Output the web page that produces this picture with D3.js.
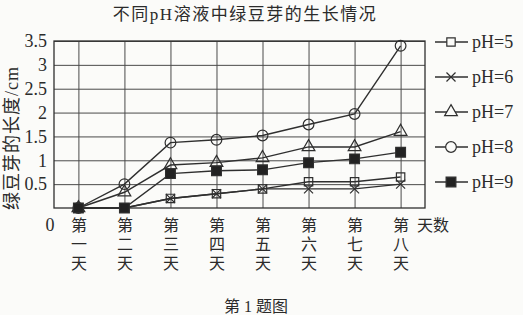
<!DOCTYPE html>
<html>
<head>
<meta charset="utf-8">
<script src="https://cdn.jsdelivr.net/npm/d3@7"></script>
<style>
  body { margin: 0; background: #fbfbf9; }
  text { fill: #2b2b2b; font-family: "Liberation Serif", "Noto Sans CJK SC", serif; }
</style>
</head>
<body>
<div id="chart"></div>
<script>
// data
var days = ["第一天", "第二天", "第三天", "第四天", "第五天", "第六天", "第七天", "第八天"];
var yTicks = [0.5, 1, 1.5, 2, 2.5, 3, 3.5];
var seriesNames = ["pH=5", "pH=6", "pH=7", "pH=8", "pH=9"];
var ph5 = [0, 0, 0.2, 0.3, 0.4, 0.55, 0.55, 0.65];
var ph6 = [0, 0, 0.2, 0.3, 0.4, 0.4, 0.4, 0.5];
var ph7 = [0, 0.33, 0.9, 0.95, 1.05, 1.28, 1.28, 1.6];
var ph8 = [0, 0.5, 1.37, 1.43, 1.52, 1.75, 1.97, 3.4];
var ph9 = [0, 0, 0.72, 0.78, 0.8, 0.95, 1.03, 1.17];

var seriesValues = [ph5, ph6, ph7, ph8, ph9];
var symbols = [d3.symbolSquare, d3.symbolX, d3.symbolTriangle, d3.symbolCircle, d3.symbolSquare];
var symSizes = [70, 55, 70, 90, 95];
var filled = [false, false, false, false, true];

var svgWidth = 523, svgHeight = 315;
var margin = { top: 41, right: 98, bottom: 107, left: 54 };
var chartWidth = svgWidth - margin.left - margin.right;
var chartHeight = svgHeight - margin.top - margin.bottom;
var ink = "#2f2f2f";

var svg = d3.select("#chart").append("svg")
  .attr("width", svgWidth)
  .attr("height", svgHeight);

var chartGroup = svg.append("g")
  .attr("transform", `translate(${margin.left}, ${margin.top})`);

// scales
var xScale = d3.scalePoint()
  .domain(days)
  .range([0, chartWidth])
  .padding(0.53);

var yScale = d3.scaleLinear()
  .domain([0, 3.5])
  .range([chartHeight, 0]);

// grid
chartGroup.append("g")
  .attr("class", "grid")
  .call(d3.axisLeft(yScale).tickValues(yTicks).tickSize(-chartWidth).tickFormat(""))
  .call(g => g.select(".domain").remove())
  .selectAll("line").attr("stroke", "#4a4a4a").attr("stroke-width", 1);

chartGroup.append("g")
  .attr("class", "grid")
  .attr("transform", `translate(0, ${chartHeight})`)
  .call(d3.axisBottom(xScale).tickSize(-chartHeight).tickFormat(""))
  .call(g => g.select(".domain").remove())
  .selectAll("line").attr("stroke", "#4a4a4a").attr("stroke-width", 1);

chartGroup.append("rect")
  .attr("width", chartWidth)
  .attr("height", chartHeight)
  .attr("fill", "none")
  .attr("stroke", ink)
  .attr("stroke-width", 1.3);

// y tick labels
var leftAxis = chartGroup.append("g")
  .call(d3.axisLeft(yScale).tickValues(yTicks).tickSize(0).tickPadding(7).tickFormat(d => d));
leftAxis.select(".domain").remove();
leftAxis.selectAll("text")
  .attr("font-size", 18)
  .attr("font-family", "Liberation Serif, serif")
  .attr("fill", "#333");

// x tick labels, written vertically
var bottomAxis = chartGroup.append("g")
  .attr("transform", `translate(0, ${chartHeight})`)
  .call(d3.axisBottom(xScale).tickSize(0).tickFormat(""));
bottomAxis.select(".domain").remove();
bottomAxis.selectAll(".tick").each(function(d) {
  var t = d3.select(this).append("text")
    .attr("text-anchor", "middle")
    .attr("font-size", 16)
    .attr("font-family", "Noto Sans CJK SC");
  d.split("").forEach(function(ch, i) {
    t.append("tspan").attr("x", 0).attr("y", 23 + i * 19).text(ch);
  });
});

chartGroup.append("text")
  .attr("x", -4).attr("y", chartHeight + 23)
  .attr("text-anchor", "middle")
  .attr("font-size", 18)
  .text("0");

chartGroup.append("text")
  .attr("x", chartWidth - 8).attr("y", chartHeight + 23)
  .attr("font-size", 16)
  .attr("font-family", "Noto Sans CJK SC")
  .text("天数");

// lines + markers
var line = d3.line()
  .x((d, i) => xScale(days[i]))
  .y(d => yScale(d));

seriesValues.forEach(function(vals, s) {
  chartGroup.append("path")
    .datum(vals)
    .attr("fill", "none")
    .attr("stroke", ink)
    .attr("stroke-width", 1.4)
    .attr("d", line);
});

seriesValues.forEach(function(vals, s) {
  chartGroup.append("g")
    .selectAll("path")
    .data(vals)
    .enter()
    .append("path")
    .attr("transform", (d, i) => `translate(${xScale(days[i])}, ${yScale(d)})`)
    .attr("d", d3.symbol().type(symbols[s]).size(symSizes[s]))
    .attr("fill", filled[s] ? "#222" : "none")
    .attr("stroke", ink)
    .attr("stroke-width", 1.2);
});

// legend
var legend = svg.append("g")
  .attr("transform", "translate(435, 42)");

var rows = legend.selectAll("g")
  .data(seriesNames)
  .enter()
  .append("g")
  .attr("transform", (d, i) => `translate(0, ${i * 35})`);

rows.append("line")
  .attr("x1", 0).attr("x2", 33)
  .attr("stroke", ink).attr("stroke-width", 1.4);

rows.append("path")
  .attr("transform", "translate(16, 0)")
  .attr("d", (d, i) => d3.symbol().type(symbols[i]).size(symSizes[i])())
  .attr("fill", (d, i) => filled[i] ? "#222" : "#fbfbf9")
  .attr("stroke", ink)
  .attr("stroke-width", 1.2);

rows.append("text")
  .attr("x", 37).attr("y", 6)
  .attr("font-size", 18)
  .text(d => d);

// title, axis label, caption
svg.append("text")
  .attr("x", 245).attr("y", 20)
  .attr("text-anchor", "middle")
  .attr("font-size", 17)
  .attr("letter-spacing", 1.5)
  .text("不同pH溶液中绿豆芽的生长情况");

svg.append("text")
  .attr("transform", "translate(18, 138) rotate(-90)")
  .attr("text-anchor", "middle")
  .attr("font-size", 18)
  .attr("letter-spacing", 1)
  .text("绿豆芽的长度/cm");

svg.append("text")
  .attr("x", 256).attr("y", 312)
  .attr("text-anchor", "middle")
  .attr("font-size", 16)
  .text("第 1 题图");
</script>
</body>
</html>
